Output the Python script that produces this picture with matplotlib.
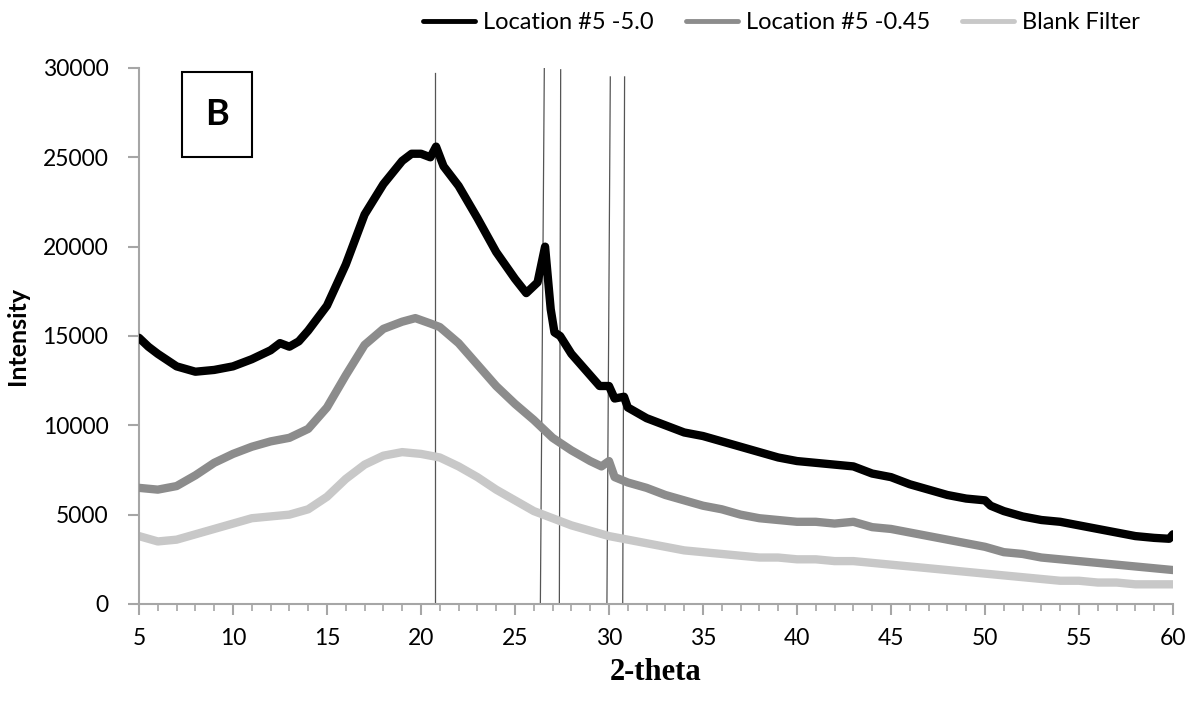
import matplotlib
matplotlib.use("Agg")
import matplotlib.pyplot as plt
from matplotlib.patches import Rectangle
from matplotlib.lines import Line2D
from matplotlib.ticker import MultipleLocator

# ---- data ----
x_loc5_50 = [5, 5.5, 6, 7, 8, 9, 10, 11, 12, 12.5, 13, 13.5, 14, 15, 16, 17, 18, 19, 19.5,
             20, 20.5, 20.8, 21.2, 22, 23, 24, 25, 25.6, 26.2, 26.6, 26.9, 27.1, 27.4, 28,
             29, 29.5, 30, 30.3, 30.8, 31, 32, 33, 34, 35, 36, 37, 38, 39, 40, 41, 42, 43,
             44, 45, 46, 47, 48, 49, 50, 50.3, 51, 52, 53, 54, 55, 56, 57, 58, 59, 59.8, 60]
y_loc5_50 = [14900, 14400, 14000, 13300, 13000, 13100, 13300, 13700, 14200, 14600, 14400,
             14700, 15300, 16700, 19000, 21800, 23500, 24800, 25200, 25200, 25000, 25600,
             24500, 23400, 21600, 19700, 18200, 17400, 18000, 20000, 16500, 15200, 15000,
             14000, 12800, 12200, 12200, 11500, 11600, 11000, 10400, 10000, 9600, 9400,
             9100, 8800, 8500, 8200, 8000, 7900, 7800, 7700, 7300, 7100, 6700, 6400, 6100,
             5900, 5800, 5500, 5200, 4900, 4700, 4600, 4400, 4200, 4000, 3800, 3700, 3650,
             3900]

x_loc5_045 = [5, 6, 7, 8, 9, 10, 11, 12, 13, 14, 15, 16, 17, 18, 19, 19.7, 20.5, 21, 22, 23,
              24, 25, 26, 27, 28, 29, 29.6, 30, 30.3, 31, 32, 33, 34, 35, 36, 37, 38, 39,
              40, 41, 42, 43, 44, 45, 46, 47, 48, 49, 50, 51, 52, 53, 54, 55, 56, 57, 58,
              59, 60]
y_loc5_045 = [6500, 6400, 6600, 7200, 7900, 8400, 8800, 9100, 9300, 9800, 11000, 12800,
              14500, 15400, 15800, 16000, 15700, 15500, 14600, 13400, 12200, 11200, 10300,
              9300, 8600, 8000, 7700, 8000, 7100, 6800, 6500, 6100, 5800, 5500, 5300, 5000,
              4800, 4700, 4600, 4600, 4500, 4600, 4300, 4200, 4000, 3800, 3600, 3400, 3200,
              2900, 2800, 2600, 2500, 2400, 2300, 2200, 2100, 2000, 1900]

x_blank = list(range(5, 61))
y_blank = [3800, 3500, 3600, 3900, 4200, 4500, 4800, 4900, 5000, 5300, 6000, 7000, 7800,
           8300, 8500, 8400, 8200, 7700, 7100, 6400, 5800, 5200, 4800, 4400, 4100, 3800,
           3600, 3400, 3200, 3000, 2900, 2800, 2700, 2600, 2600, 2500, 2500, 2400, 2400,
           2300, 2200, 2100, 2000, 1900, 1800, 1700, 1600, 1500, 1400, 1300, 1300, 1200,
           1200, 1100, 1100, 1100]

# reference peak lines (bottom x, top x, top y)
peak_bottom_x = [20.77, 26.35, 27.36, 29.89, 30.73]
peak_top_x = [20.77, 26.56, 27.43, 30.07, 30.83]
peak_top_y = [29700, 30000, 29900, 29500, 29500]

series_labels = ["Location #5 -5.0", "Location #5 -0.45", "Blank Filter"]
series_colors = ['black', '#8c8c8c', '#c8c8c8']
panel_label = "B"

# ---- figure ----
plt.rcParams['font.family'] = ['Lato', 'DejaVu Sans']
fig = plt.figure(figsize=(11.9, 7.06), dpi=100)
ax = fig.add_axes([0.1168, 0.1445, 0.8689, 0.7592])

spine_c = '#a6a6a6'
for xb, xt, yt in zip(peak_bottom_x, peak_top_x, peak_top_y):
    ax.plot([xb, xt], [0, yt], color='#555555', lw=0.9, zorder=1)

series = [(x_loc5_50, y_loc5_50), (x_loc5_045, y_loc5_045), (x_blank, y_blank)]
for i, ((xs, ys), c) in enumerate(zip(series, series_colors)):
    ax.plot(xs, ys, color=c, lw=6, solid_joinstyle='round', solid_capstyle='round',
            zorder=4 - i)

ax.set_xlim(5, 60)
ax.set_ylim(0, 30000)
ax.xaxis.set_major_locator(MultipleLocator(5))
ax.xaxis.set_minor_locator(MultipleLocator(1))
ax.yaxis.set_major_locator(MultipleLocator(5000))

for s in ['top', 'right']:
    ax.spines[s].set_visible(False)
for s in ['left', 'bottom']:
    ax.spines[s].set_color(spine_c)
    ax.spines[s].set_linewidth(1.5)

ax.tick_params(axis='both', which='major', direction='out', color=spine_c, width=1.5,
               length=8, labelsize=16.5, labelcolor='black')
ax.tick_params(axis='x', which='minor', direction='out', color=spine_c, width=1.2, length=5)
ax.tick_params(axis='x', which='major', pad=9)
ax.tick_params(axis='y', which='major', pad=14)

ax.set_ylabel("Intensity", fontsize=18, fontweight='bold', labelpad=10)
ax.set_xlabel("2-theta", fontsize=22, fontweight='bold', family='Liberation Serif',
              labelpad=7)

# panel label box
ax.add_patch(Rectangle((0.0416, 0.8335), 0.0677, 0.159, transform=ax.transAxes,
                       fill=False, edgecolor='black', lw=1.5, zorder=5))
ax.text(0.0755, 0.913, panel_label, transform=ax.transAxes, ha='center', va='center',
        fontsize=26, fontweight='bold', zorder=6)

handles = [Line2D([], [], color=c, lw=3.5, solid_capstyle='round') for c in series_colors]
fig.legend(handles=handles, labels=series_labels, loc='upper right',
           bbox_to_anchor=(1140 / 1190, 1 - 12 / 706), ncol=3, frameon=False, fontsize=17,
           handlelength=2.2, columnspacing=1.35, handletextpad=0.35, borderpad=0,
           borderaxespad=0)

fig.savefig("out.png", dpi=100)
